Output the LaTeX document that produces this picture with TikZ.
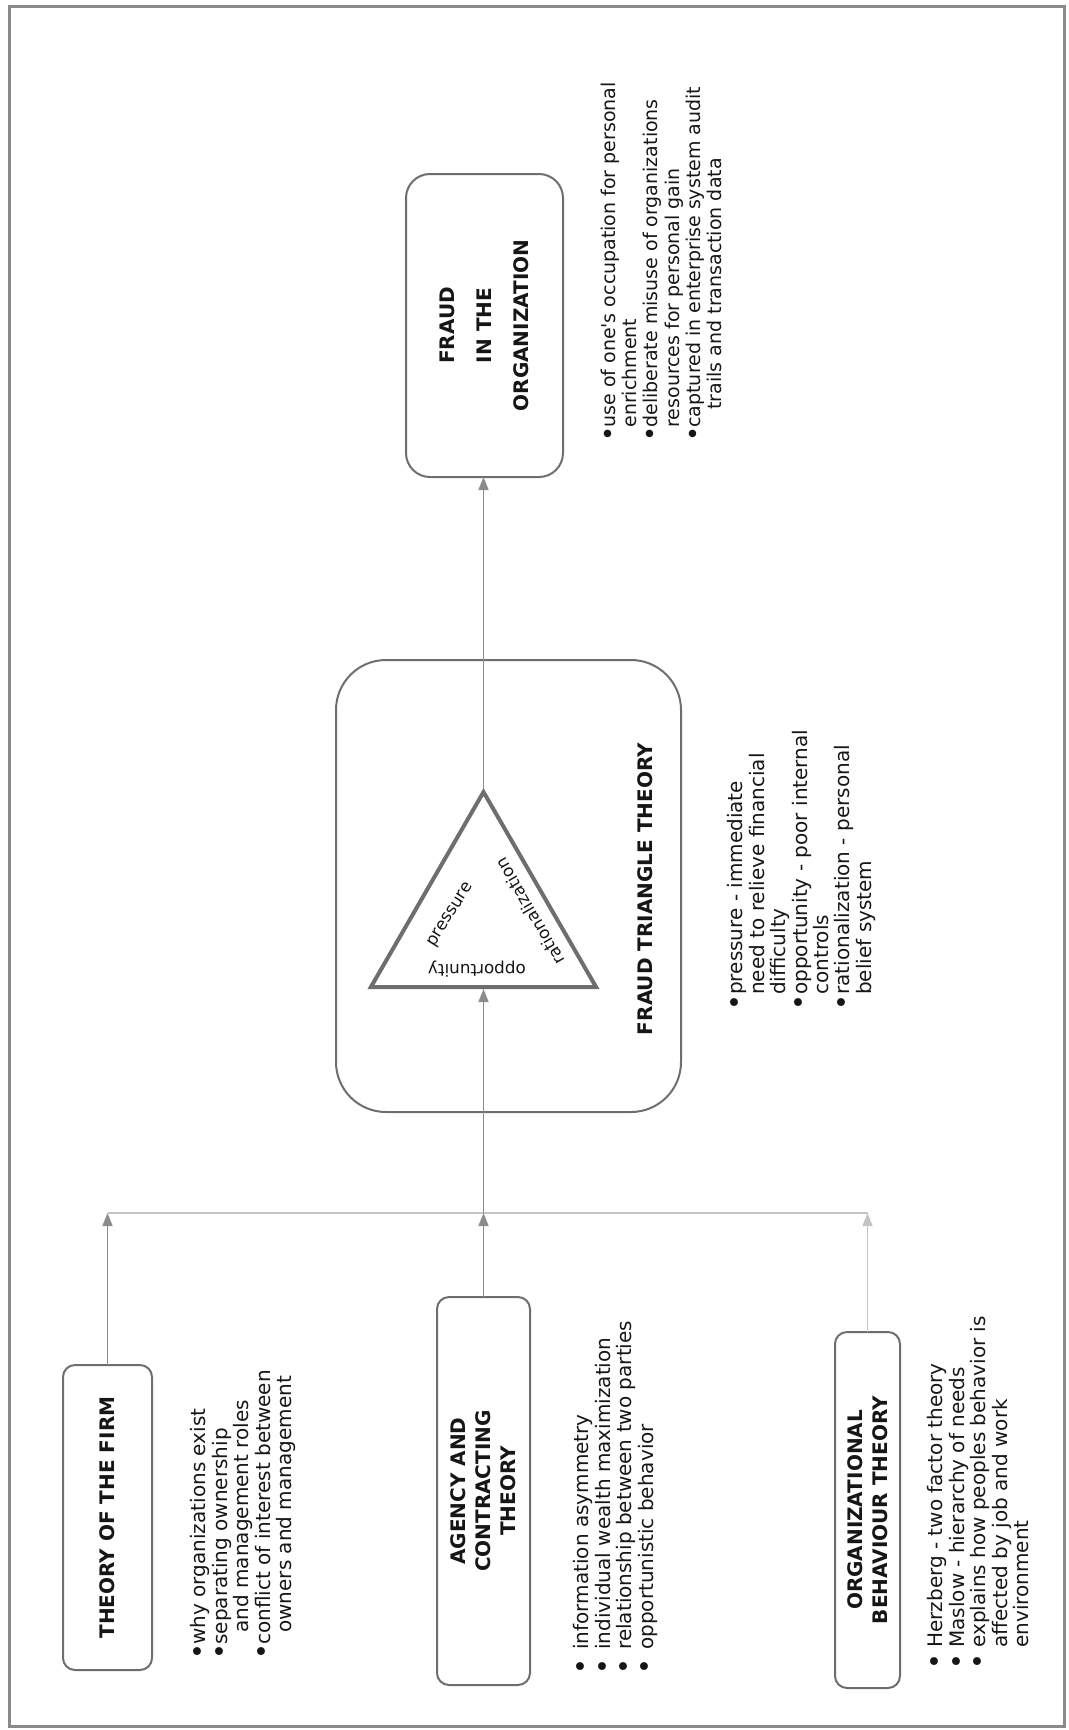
\documentclass[tikz,border=0pt]{standalone}
\usepackage{fontspec}
\setmainfont{DejaVu Sans}
\usetikzlibrary{arrows.meta,shapes.geometric}

\definecolor{ink}{HTML}{161616}
\definecolor{edgegray}{HTML}{6E6E6E}
\definecolor{linkgray}{HTML}{8C8C8C}
\definecolor{busgray}{HTML}{C4C4C4}
\definecolor{framegray}{HTML}{8A8A8A}

% bullet lists with a hanging indent; the dot is centred 2.95pt from the line start
\newlength\hangw
\newcommand\itm{\makebox[\hangw][l]{\hspace*{2.95pt}\makebox[0pt]{\raisebox{-0.9pt}{\scalebox{1.35}{\textbullet}}}}}
\newcommand\cnt{\hspace*{\hangw}}

\begin{document}
\begin{tikzpicture}[x=0.5pt,y=-0.5pt,
  frame/.style={draw=framegray, line width=1.5pt},
  box/.style={draw=edgegray, line width=1pt, inner sep=0pt, outer sep=0pt},
  title/.style={rotate=90, inner sep=0pt, align=center, text=ink,
    font=\bfseries\fontsize{10pt}{12.5pt}\selectfont},
  notes/.style={rotate=90, anchor=north west, inner sep=0pt, align=left, text=ink,
    font=\fontsize{10pt}{10.7pt}\selectfont,
    execute at begin node={\setlength\hangw{#1}}},
  corner/.style={rotate=#1, inner sep=0pt, text=ink,
    font=\fontsize{8.4pt}{10pt}\selectfont},
  link/.style={draw=linkgray, line width=0.7pt},
  tip/.style={-{Triangle[length=6.5pt,width=5pt]}},
]
\useasboundingbox (0,0) rectangle (1069,1730);
\draw[frame] (9,6) rectangle (1064,1726);

% boxes
\node[box, rounded corners=12pt, minimum width=78.5pt, minimum height=151.5pt]
  (fraud) at (484.5,325.5) {};
\node[box, rounded corners=25pt, minimum width=172.5pt, minimum height=226pt]
  (ftt) at (508.5,886) {};
\node[box, rounded corners=6pt, minimum width=44.5pt, minimum height=152.5pt]
  (firm) at (107.5,1517.5) {};
\node[box, rounded corners=6pt, minimum width=46.5pt, minimum height=194pt]
  (agency) at (483.5,1491) {};
\node[box, rounded corners=6pt, minimum width=32.5pt, minimum height=178pt]
  (org) at (867.5,1510) {};

% the fraud triangle
\node[regular polygon, regular polygon sides=3, minimum size=130pt, inner sep=0pt,
  draw=edgegray, line width=2pt] (tri) at (483.5,922) {};
\node[corner=58]  (lpress) at (451,915) {pressure};
\node[corner=120] (lrat)   at (530,912) {rationalization};
\node[corner=180] (lopp)   at (477,969) {opportunity};

% titles
\node[title, font=\bfseries\fontsize{10pt}{18.5pt}\selectfont] (tfraud) at (fraud.center)
  {FRAUD\\IN THE\\ORGANIZATION};
\node[title] (tftt) at (645,889) {FRAUD TRIANGLE THEORY};
\node[title] (tfirm) at (firm.center) {THEORY OF THE FIRM};
\node[title] (tagency) at (agency.center) {AGENCY AND\\CONTRACTING\\THEORY};
\node[title] (torg) at (org.center) {ORGANIZATIONAL\\BEHAVIOUR THEORY};

% connectors
\coordinate (busy) at (0,1213);
\coordinate (busL) at (firm.north |- busy);
\coordinate (busM) at (agency.north |- busy);
\coordinate (busR) at (org.north |- busy);
\draw[draw=busgray, line width=0.7pt] (busL) -- (busR);
\draw[link, tip] (firm.north) -- (busL);
\draw[link, tip] (agency.north) -- (busM);
\draw[link, draw=busgray, tip] (org.north) -- (busR);
\draw[link, tip] (busM) -- (tri.south);
\draw[link, tip] (tri.north) -- (tri.north |- fraud.south);

% notes
\node[notes=6.3pt, font=\fontsize{9.5pt}{10.6pt}\selectfont] (nfraud) at (600.7,440.6) {%
\itm use of one\textquotesingle s occupation for personal\\
\cnt enrichment\\
\itm deliberate misuse of organizations\\
\cnt resources for personal gain\\
\itm captured in enterprise system audit\\
\cnt\hspace*{9pt}trails and transaction data};

\node[notes=6.95pt] (nftt) at (727.3,1009) {%
\itm pressure - immediate\\
\cnt need to relieve financial\\
\cnt difficulty\\
\itm opportunity - poor internal\\
\cnt controls\\
\itm rationalization - personal\\
\cnt belief system};

\node[notes=6.45pt] (nfirm) at (190.3,1657.9) {%
\itm why organizations exist\\
\itm separating ownership\\
\cnt\hspace*{6pt}and management roles\\
\itm conflict of interest between\\
\cnt\hspace*{6pt}owners and management};

\node[notes=11.45pt] (nagency) at (573.3,1673) {%
\itm information asymmetry\\
\itm individual wealth maximization\\
\itm relationship between two parties\\
\itm opportunistic behavior};

\node[notes=9.95pt] (norg) at (927.3,1668) {%
\itm Herzberg - two factor theory\\
\itm Maslow - hierarchy of needs\\
\itm explains how peoples behavior is\\
\cnt affected by job and work\\
\cnt environment};
\end{tikzpicture}
\end{document}
